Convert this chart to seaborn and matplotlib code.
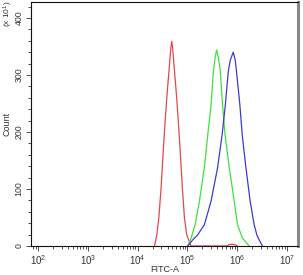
import numpy as np
import pandas as pd
import matplotlib
matplotlib.use("Agg")
import matplotlib.pyplot as plt
import seaborn as sns
from matplotlib.ticker import MultipleLocator, FixedLocator

# histogram outlines: log10(FITC-A) and count (x10^1)
red_log = [4.34, 4.386, 4.426, 4.47, 4.51, 4.55, 4.59, 4.64, 4.665, 4.686, 4.705, 4.73,
           4.78, 4.82, 4.86, 4.90, 4.94, 4.986, 5.074, 5.80, 5.84, 5.90, 5.96, 6.00]
red_cnt = [0, 19.5, 49.6, 100, 160, 215, 265, 318, 345, 359, 345, 318,
           265, 215, 160, 100, 49.6, 19.5, 0, 0, 2.5, 3, 2, 0]

green_log = [5.006, 5.074, 5.154, 5.24, 5.34, 5.41, 5.474, 5.52, 5.554, 5.586, 5.626,
             5.66, 5.706, 5.754, 5.84, 5.94, 6.006, 6.106, 6.24]
green_cnt = [0, 13.6, 37.2, 78.4, 137.5, 196, 246.5, 305.7, 329, 344, 329,
             305.7, 246.5, 196, 137.5, 78.4, 37.2, 13.6, 0]

blue_log = [5.006, 5.106, 5.206, 5.34, 5.474, 5.606, 5.696, 5.76, 5.82, 5.86, 5.92,
            5.96, 5.986, 6.054, 6.10, 6.174, 6.26, 6.34, 6.394, 6.44, 6.506]
blue_cnt = [0, 10.6, 19.5, 37.2, 78.4, 137.5, 195, 246.5, 305.7, 326, 340,
            326, 305.7, 246.5, 195, 137.5, 78.4, 37.2, 19.5, 10.6, 0]

y_ticks = [0, 100, 200, 300, 400]
x_decades = [2, 3, 4, 5, 6, 7]

frames = []
for name, lx, cn in [('red', red_log, red_cnt), ('green', green_log, green_cnt),
                     ('blue', blue_log, blue_cnt)]:
    frames.append(pd.DataFrame({'FITC': 10 ** np.array(lx), 'Count': cn, 'sample': name}))
data = pd.concat(frames, ignore_index=True)

sns.set_style('ticks')
plt.rcParams['font.family'] = ['Liberation Sans', 'DejaVu Sans']
plt.rcParams['mathtext.fontset'] = 'custom'
plt.rcParams['mathtext.rm'] = 'Liberation Sans'
plt.rcParams['mathtext.default'] = 'regular'

fig = plt.figure(figsize=(3.03, 2.75), dpi=100)
ax = fig.add_axes([0.1007, 0.1055, 0.8828, 0.8872])

palette = {'red': '#e4474c', 'green': '#3fe03f', 'blue': '#3b3bd2'}
sns.lineplot(data=data, x='FITC', y='Count', hue='sample', palette=palette,
             estimator=None, sort=False, linewidth=0.9, legend=False, ax=ax)

ax.set_xscale('log')
ax.set_xlim(10 ** 1.85, 10 ** 7.22)
ax.set_ylim(0, 428)
ax.xaxis.set_major_locator(FixedLocator([10 ** d for d in x_decades]))
ax.set_xticklabels([r'$10^{%d}$' % d for d in x_decades])
ax.yaxis.set_major_locator(FixedLocator(y_ticks))
ax.yaxis.set_minor_locator(MultipleLocator(20))
ax.set_yticklabels([str(v) for v in y_ticks], rotation=90, va='center')

ax.tick_params(axis='both', which='major', length=3.5, width=0.6, labelsize=6.3,
               colors='#333333', pad=1.5)
ax.tick_params(axis='both', which='minor', length=2, width=0.6, colors='#333333')
ax.tick_params(axis='x', labelsize=7)

for s in ['left', 'top', 'bottom']:
    ax.spines[s].set_color('#111111')
    ax.spines[s].set_linewidth(0.8)
ax.spines['right'].set_color('#888888')
ax.spines['right'].set_linewidth(2.2)

ax.set_xlabel('FITC-A', fontsize=6.5, color='#333333')
ax.xaxis.set_label_coords(0.5, -0.078)
ax.set_ylabel('Count', fontsize=6.5, color='#333333', labelpad=2)
fig.text(8 / 303, 1 - 14 / 275, r'(x 10$^{1}$)', rotation=90, fontsize=6,
         color='#333333', ha='center', va='center')

fig.savefig('out.png', dpi=100)
